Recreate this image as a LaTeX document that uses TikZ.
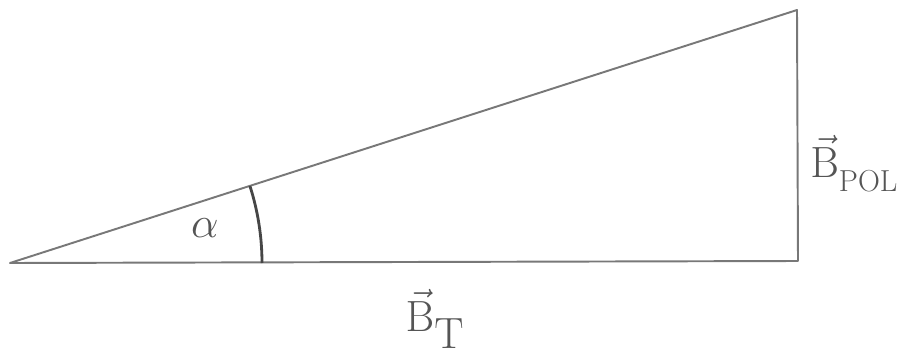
\documentclass[tikz,border=0pt]{standalone}
\usepackage{tikz}
\usepackage{xcolor}
\usepackage{amsmath,amssymb}
\usetikzlibrary{calc,positioning}
\definecolor{pencilGray}{RGB}{120,120,120}
\definecolor{pencilDark}{RGB}{70,70,70}
\definecolor{inkGray}{RGB}{85,85,85}

\begin{document}
\begin{tikzpicture}
\useasboundingbox (0,0) rectangle (18.06,7.12);
\tikzset{pencil/.style={draw=pencilGray,line width=1.1pt,line join=round},
  lbl/.style={text=inkGray,inner sep=0pt}}
\coordinate (apex) at (0.2,1.86);
\coordinate (corner) at (15.96,1.9);
\coordinate (tip) at (15.94,6.92);
\draw[pencil] (apex) -- (corner) -- (tip) -- cycle;
\draw[pencilDark,line width=1.6pt] ($(apex)+(0:5.04)$) arc[start angle=0,end angle=17.8,radius=5.04];
\node[lbl] (alpha) at (4.1,2.55) {\fontsize{30}{32}\selectfont $\alpha$};
\node[lbl,anchor=west] (bpol) at (16.2,3.85) {\fontsize{32}{34}\selectfont $\vec{\mathrm{B}}_{\raisebox{-4pt}{$\scriptscriptstyle\mathrm{POL}$}}$};
\node[lbl] (bt) at (8.7,0.75) {\fontsize{34}{36}\selectfont $\vec{\mathrm{B}}_{\raisebox{-6pt}{$\scriptstyle\mathrm{T}$}}$};
\end{tikzpicture}
\end{document}
